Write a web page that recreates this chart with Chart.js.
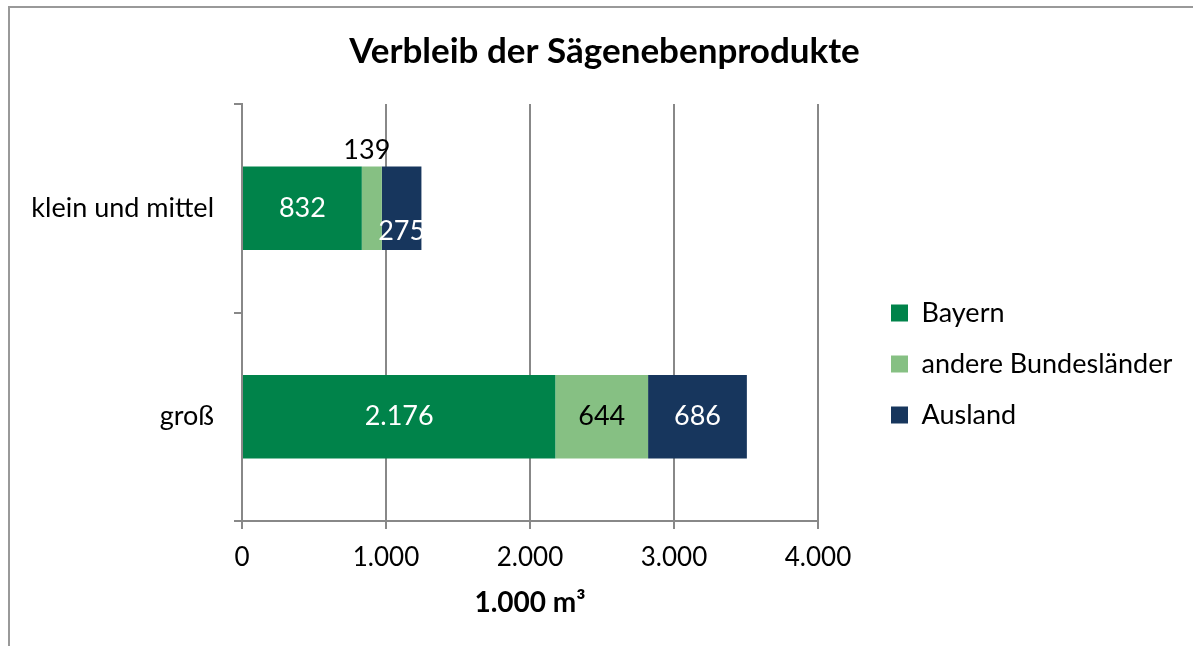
<!DOCTYPE html>
<html>
<head>
<meta charset="utf-8">
<script src="https://cdn.jsdelivr.net/npm/chart.js@4.4.1/dist/chart.umd.min.js"></script>
<style>
  html, body { margin: 0; padding: 0; background: #fff; overflow: hidden; }
  #wrap { position: relative; width: 1193px; height: 646px; }
  #frame { position: absolute; left: 8px; top: 6px; width: 1300px; height: 800px;
           border-left: 2px solid #999; border-top: 2px solid #999; }
  #chart { position: absolute; left: 0; top: 0; }
</style>
</head>
<body>
<div id="wrap">
  <div id="frame"></div>
  <canvas id="chart" width="1193" height="646"></canvas>
</div>
<script>
(function () {
    "use strict";

    var categories = ["klein und mittel", "groß"];
    var bayern = [832, 2176];
    var andereLaender = [139, 644];
    var ausland = [275, 686];
    var seriesNames = ["Bayern", "andere Bundesländer", "Ausland"];
    var xTicks = [0, 1000, 2000, 3000, 4000];

    var fontFamily = "Lato, 'Open Sans', sans-serif";

    function fmt(v) {
        return String(Math.round(v)).replace(/\B(?=(\d{3})+(?!\d))/g, ".");
    }

    // value labels inside the bars (small ones nudged like in the original)
    var barLabels = {
        id: "barLabels",
        afterDatasetsDraw: function (chart, args, opts) {
            var ctx = chart.ctx;
            ctx.save();
            ctx.font = "27px " + fontFamily;
            ctx.textAlign = "center";
            ctx.textBaseline = "middle";
            chart.data.datasets.forEach(function (ds, di) {
                var meta = chart.getDatasetMeta(di);
                meta.data.forEach(function (bar, i) {
                    var shift = opts.shift[di + "-" + i] || [0, 0];
                    ctx.fillStyle = opts.colors[di];
                    if (shift[1] < 0) ctx.fillStyle = "#000";
                    ctx.fillText(fmt(ds.data[i]), (bar.x + bar.base) / 2 + shift[0], bar.y + shift[1]);
                });
            });
            ctx.restore();
        }
    };

    // move legend and title blocks to where they sit in the original
    var blockShift = {
        id: "blockShift",
        afterLayout: function (chart, args, opts) {
            var lg = chart.legend;
            lg.left += opts.legendDx;
            lg.right = chart.width;
            lg.width = lg.right - lg.left;
            lg.top += opts.legendDy;
            lg.bottom += opts.legendDy;
            var tb = chart.titleBlock;
            tb.left += opts.titleDx;
            tb.right += opts.titleDx;
        }
    };

    var ctx = document.getElementById("chart").getContext("2d");
    new Chart(ctx, {
        type: "bar",
        data: {
            labels: categories,
            datasets: [
                { label: seriesNames[0], data: bayern, backgroundColor: "#00834a" },
                { label: seriesNames[1], data: andereLaender, backgroundColor: "#86c083" },
                { label: seriesNames[2], data: ausland, backgroundColor: "#17365d" }
            ]
        },
        plugins: [barLabels, blockShift],
        options: {
            indexAxis: "y",
            responsive: false,
            animation: false,
            categoryPercentage: 1,
            barPercentage: 0.4,
            layout: { padding: { left: 17, right: 175, top: 0, bottom: 0 } },
            scales: {
                x: {
                    stacked: true,
                    min: 0,
                    max: 4000,
                    afterBuildTicks: function (s) {
                        s.ticks = xTicks.map(function (v) { return { value: v }; });
                    },
                    ticks: {
                        callback: function (v) { return fmt(v); },
                        color: "#000",
                        font: { family: fontFamily, size: 26 },
                        padding: 13,
                        maxRotation: 0
                    },
                    grid: { color: "#888", lineWidth: 2, tickLength: 8 },
                    border: { color: "#888", width: 2 },
                    title: {
                        display: true,
                        text: "1.000 m³",
                        color: "#000",
                        font: { family: fontFamily, size: 28, weight: "bold" },
                        padding: { top: 0, bottom: 26 }
                    },
                    afterFit: function (s) { s.height = 125; }
                },
                y: {
                    stacked: true,
                    ticks: {
                        color: "#000",
                        font: { family: fontFamily, size: 27 },
                        padding: 20
                    },
                    grid: { offset: true, drawOnChartArea: false, color: "#888", lineWidth: 2, tickLength: 8 },
                    border: { color: "#888", width: 2 },
                    afterFit: function (s) { s.width = 225; }
                }
            },
            plugins: {
                title: {
                    display: true,
                    text: "Verbleib der Sägenebenprodukte",
                    color: "#000",
                    font: { family: fontFamily, size: 35, weight: "bold" },
                    padding: { top: 31, bottom: 31 }
                },
                legend: {
                    position: "right",
                    align: "center",
                    maxWidth: 200,
                    labels: {
                        color: "#000",
                        font: { family: fontFamily, size: 27 },
                        boxWidth: 17,
                        boxHeight: 17,
                        padding: 24
                    }
                },
                tooltip: { enabled: false },
                barLabels: {
                    colors: ["#fff", "#000", "#fff"],
                    shift: { "1-0": [-5, -58], "2-0": [0, 23] }
                },
                blockShift: { legendDx: 49, legendDy: 41, titleDx: 87 }
            }
        }
    });
})();
</script>
</body>
</html>
